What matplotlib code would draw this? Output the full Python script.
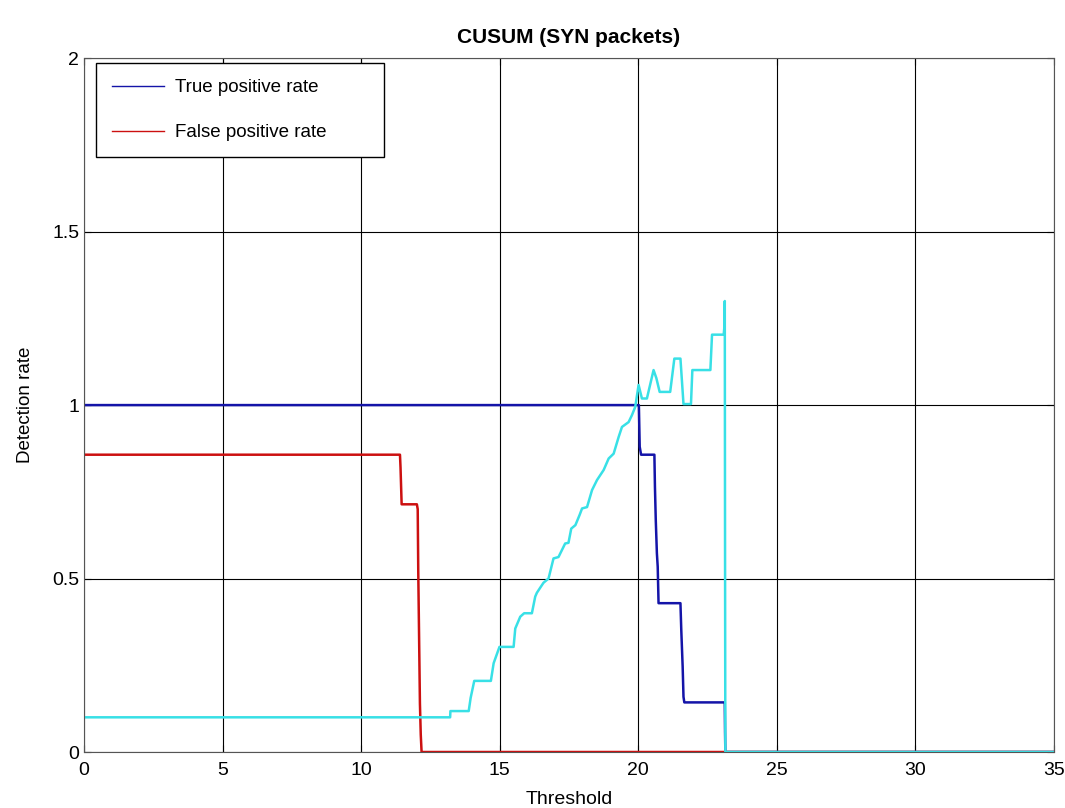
import matplotlib
matplotlib.use('Agg')
import matplotlib.pyplot as plt

plt.rcParams['font.family'] = ['Liberation Sans', 'DejaVu Sans']

# true positive rate (blue)
tp_x = [0, 20.02, 20.05, 20.10, 20.58, 20.60, 20.63, 20.67, 20.70, 20.73,
        21.52, 21.55, 21.60, 21.63, 21.66, 23.12, 23.13, 23.14, 35]
tp_y = [1.0, 1.0, 0.88, 0.857, 0.857, 0.764, 0.668, 0.573, 0.534, 0.429,
        0.429, 0.352, 0.246, 0.159, 0.143, 0.143, 0.058, 0.0, 0.0]

# false positive rate (red)
fp_x = [0, 11.40, 11.42, 11.46, 12.01, 12.04, 12.06, 12.09, 12.12, 12.15, 12.18, 35]
fp_y = [0.857, 0.857, 0.82, 0.714, 0.714, 0.70, 0.52, 0.33, 0.14, 0.05, 0.0, 0.0]

# third curve (cyan)
cy_x = [0, 13.21, 13.22, 13.88, 13.95, 14.08, 14.68, 14.78, 14.99, 15.50,
        15.56, 15.74, 15.88, 16.16, 16.28, 16.34, 16.48, 16.58, 16.76, 16.94,
        17.12, 17.36, 17.48, 17.58, 17.73, 17.88, 17.97, 18.15, 18.33, 18.51,
        18.75, 18.93, 19.11, 19.29, 19.41, 19.65, 19.77, 19.89, 20.01, 20.13,
        20.31, 20.55, 20.65, 20.77, 21.15, 21.30, 21.52, 21.63, 21.90, 21.95,
        22.60, 22.66, 23.08, 23.10, 23.12, 23.13, 23.14, 35]
cy_y = [0.1, 0.1, 0.118, 0.118, 0.156, 0.205, 0.205, 0.256, 0.303, 0.303,
        0.356, 0.39, 0.40, 0.40, 0.448, 0.459, 0.476, 0.488, 0.50, 0.558,
        0.562, 0.601, 0.603, 0.644, 0.654, 0.683, 0.702, 0.706, 0.755, 0.784,
        0.813, 0.846, 0.86, 0.908, 0.937, 0.951, 0.971, 0.995, 1.058, 1.019,
        1.019, 1.101, 1.078, 1.038, 1.038, 1.134, 1.134, 1.003, 1.003, 1.101,
        1.101, 1.203, 1.203, 1.22, 1.30, 0.55, 0.0, 0.0]

fig = plt.figure(figsize=(10.65, 8.08), dpi=100)
ax = fig.add_axes([0.0789, 0.0693, 0.9108, 0.8587])

ax.plot(tp_x, tp_y, color='#1414a8', lw=1.8, label='True positive rate')
ax.plot(fp_x, fp_y, color='#cc1010', lw=1.8, label='False positive rate')
ax.plot(cy_x, cy_y, color='#38e0e6', lw=1.8)

ax.set_xlim(0, 35)
ax.set_ylim(0, 2)
ax.set_xticks([0, 5, 10, 15, 20, 25, 30, 35])
ax.set_yticks([0, 0.5, 1, 1.5, 2])
ax.set_yticklabels(['0', '0.5', '1', '1.5', '2'])
ax.grid(True, color='black', lw=0.8)
ax.tick_params(direction='in', labelsize=14, top=True, right=True, length=5)
ax.tick_params(axis='x', pad=7)
for s in ax.spines.values():
    s.set_color('#555555')

ax.set_xlabel('Threshold', fontsize=14, labelpad=9)
ax.set_ylabel('Detection rate', fontsize=13.5, labelpad=13)
ax.set_title('CUSUM (SYN packets)', fontsize=15, fontweight='bold', pad=11)

leg = ax.legend(loc='upper left', fontsize=13.5, fancybox=False, framealpha=1,
                edgecolor='black', borderpad=0.85, labelspacing=1.5,
                handlelength=2.8, handletextpad=0.55, borderaxespad=0,
                mode='expand', bbox_to_anchor=(0.0124, 0.5, 0.297, 0.4928))
for h in leg.get_lines():
    h.set_linewidth(1.0)
leg.get_frame().set_linewidth(1.0)

fig.savefig('out.png', dpi=100)
